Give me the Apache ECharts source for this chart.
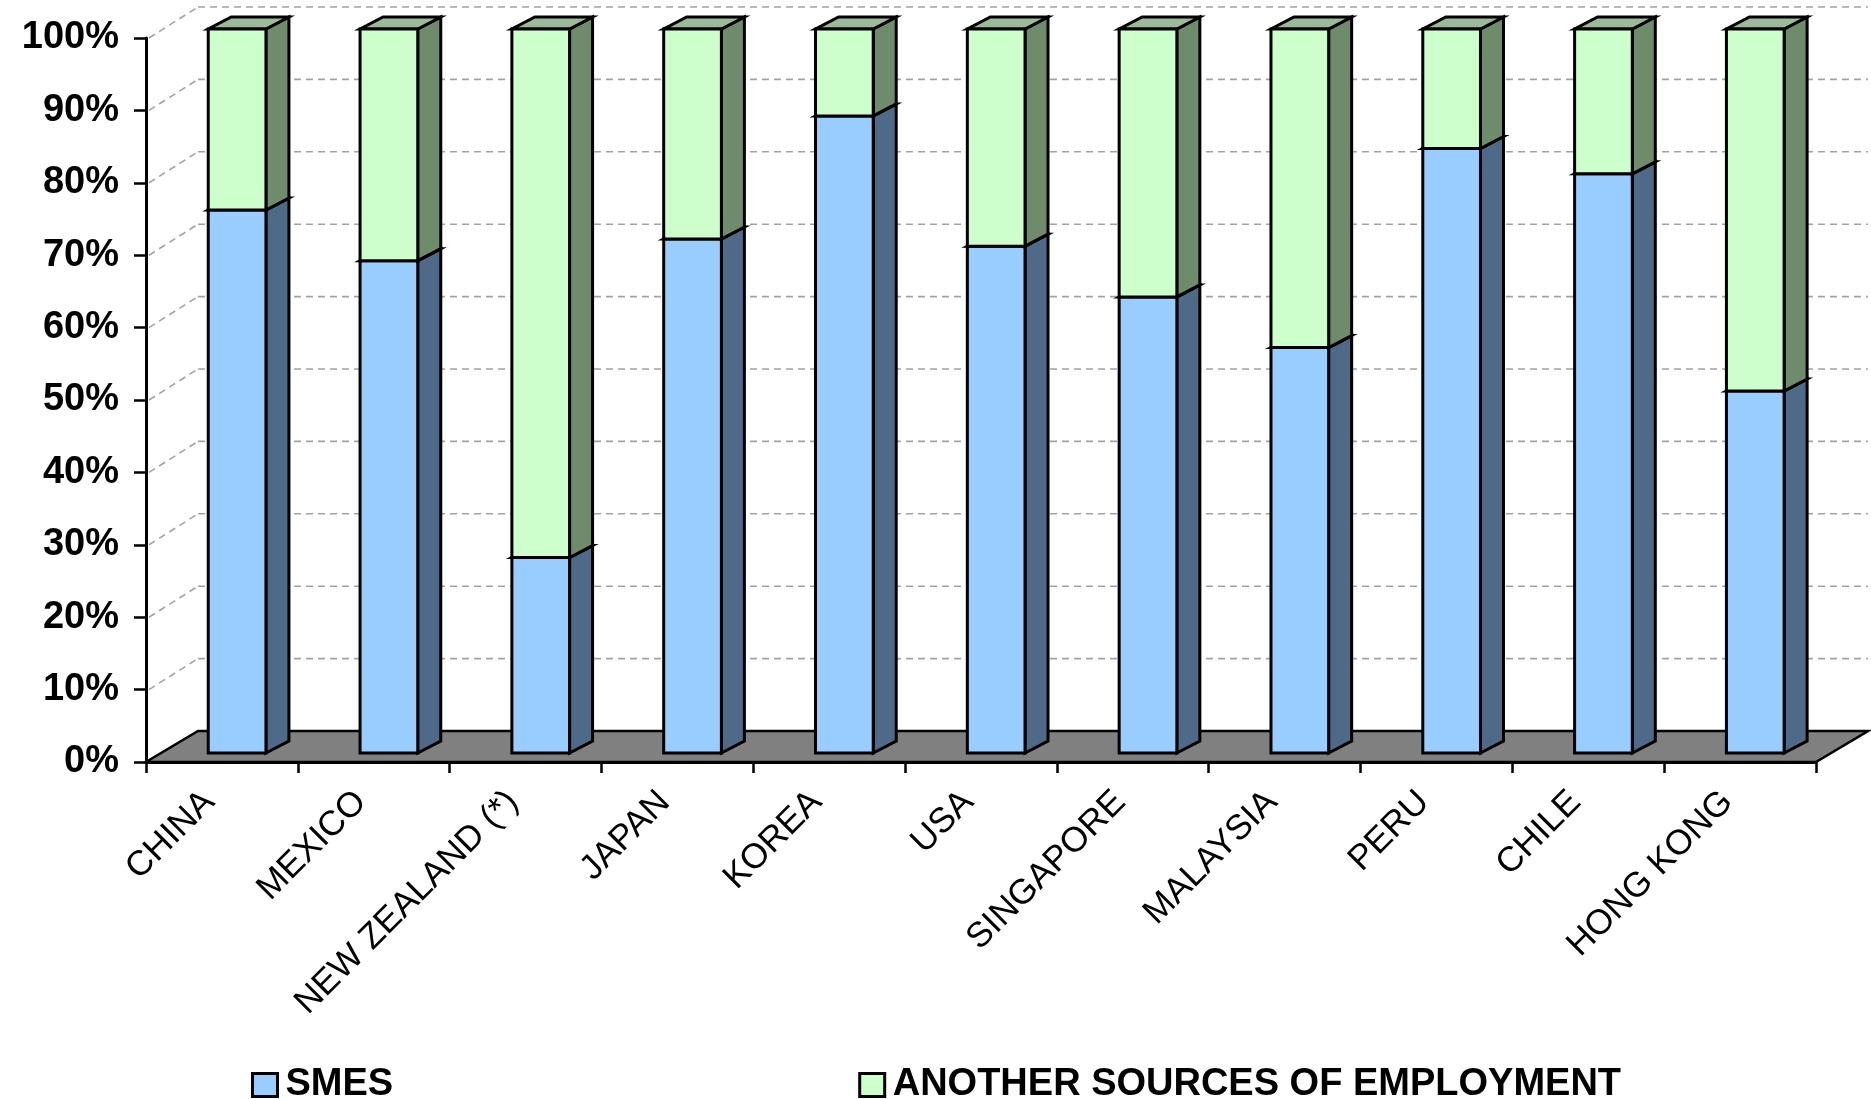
<!DOCTYPE html>
<html>
<head>
<meta charset="utf-8">
<script src="https://cdn.jsdelivr.net/npm/echarts@6/dist/echarts.min.js"></script>
<style>
  html, body { margin: 0; padding: 0; background: #ffffff; }
  #chart { width: 1871px; height: 1099px; }
</style>
</head>
<body>
<div id="chart"></div>
<script>
// Share of employment by economy (%)
const categories = ['CHINA', 'MEXICO', 'NEW ZEALAND (*)', 'JAPAN', 'KOREA', 'USA',
                    'SINGAPORE', 'MALAYSIA', 'PERU', 'CHILE', 'HONG KONG'];
const smes         = [75, 68, 27, 71, 88, 70, 63, 56, 83.5, 80, 50];
const otherSources = [25, 32, 73, 29, 12, 30, 37, 44, 16.5, 20, 50];
const yTicks = [0, 10, 20, 30, 40, 50, 60, 70, 80, 90, 100];
const seriesNames = ['SMES', 'ANOTHER SOURCES OF EMPLOYMENT'];

const FONT = '"Liberation Sans", Arial, sans-serif';

// oblique projection of the 3-D box: floor depth and bar depth
const FLOOR_DX = 52, FLOOR_DY = -31;
const BAR_DX = 23, BAR_DY = -12;
const BAR_LIFT = 9;          // bars stand a little behind the front floor edge
const OUTLINE = { stroke: '#000000', lineWidth: 3, lineJoin: 'miter' };

const palette = {
  smes:  { front: '#99CCFF', side: '#4F6A89', top: '#7FA6CC' },
  other: { front: '#CCFFCC', side: '#6E8B6C', top: '#9DB99B' }
};

function boxSegment(colors) {
  return function (params, api) {
    const i = api.value(0);
    const band = api.size([1, 0])[0];
    const lo = api.coord([i, api.value(1)]);
    const hi = api.coord([i, api.value(2)]);
    const cx = lo[0] + band * 0.1;
    const half = band * 0.19;
    const x0 = cx - half, x1 = cx + half;
    const yb = lo[1] - BAR_LIFT, yt = hi[1] - BAR_LIFT;
    return {
      type: 'group',
      children: [
        { type: 'polygon',
          shape: { points: [[x1, yb], [x1 + BAR_DX, yb + BAR_DY], [x1 + BAR_DX, yt + BAR_DY], [x1, yt]] },
          style: Object.assign({ fill: colors.side }, OUTLINE) },
        { type: 'polygon',
          shape: { points: [[x0, yt], [x1, yt], [x1 + BAR_DX, yt + BAR_DY], [x0 + BAR_DX, yt + BAR_DY]] },
          style: Object.assign({ fill: colors.top }, OUTLINE) },
        { type: 'rect',
          shape: { x: x0, y: yt, width: x1 - x0, height: yb - yt },
          style: Object.assign({ fill: colors.front }, OUTLINE) }
      ]
    };
  };
}

// grey floor under the bars
function renderFloor(params, api) {
  const cs = params.coordSys;
  const yb = api.coord([0, yTicks[0]])[1];
  const xl = cs.x, xr = cs.x + cs.width;
  return {
    type: 'polygon',
    shape: { points: [[xl, yb], [xr, yb], [xr + FLOOR_DX, yb + FLOOR_DY], [xl + FLOOR_DX, yb + FLOOR_DY]] },
    style: { fill: '#808080', stroke: '#000000', lineWidth: 2.5, lineJoin: 'miter' }
  };
}

// dashed gridlines on the side and back walls
function renderWallLine(params, api) {
  const cs = params.coordSys;
  const y = api.coord([0, api.value(1)])[1];
  const xl = cs.x, xr = cs.x + cs.width;
  const dash = { stroke: '#a3a3a3', lineWidth: 1.6, lineDash: [7, 5], fill: null };
  return {
    type: 'group',
    children: [
      { type: 'line', shape: { x1: xl + 3, y1: y, x2: xl + FLOOR_DX, y2: y + FLOOR_DY }, style: dash },
      { type: 'line', shape: { x1: xl + FLOOR_DX, y1: y + FLOOR_DY, x2: xr + FLOOR_DX, y2: y + FLOOR_DY }, style: dash }
    ]
  };
}

const chart = echarts.init(document.getElementById('chart'), null, { renderer: 'canvas' });

chart.setOption({
  animation: false,
  backgroundColor: '#ffffff',
  grid: { left: 146, right: 55, top: 38, bottom: 337, containLabel: false },
  legend: {
    data: seriesNames,
    left: 246,
    top: 1060,
    icon: 'rect',
    itemWidth: 25,
    itemHeight: 23,
    itemGap: 465,
    itemStyle: { borderColor: '#000000', borderWidth: 3 },
    textStyle: {
      fontFamily: FONT, fontSize: 38, fontWeight: 'bold', color: '#000000',
      lineHeight: 40, padding: [0, 0, 0, 3]
    }
  },
  xAxis: {
    type: 'category',
    data: categories,
    boundaryGap: true,
    z: 10,
    axisLine: { show: true, lineStyle: { color: '#000000', width: 3 } },
    axisTick: { show: true, length: 11, alignWithLabel: false, lineStyle: { color: '#000000', width: 2.5 } },
    axisLabel: {
      interval: 0, rotate: 45, margin: 22,
      padding: [0, 18, 0, 0],
      fontFamily: FONT, fontSize: 35, color: '#000000'
    },
    splitLine: { show: false }
  },
  yAxis: {
    type: 'value',
    min: yTicks[0],
    max: yTicks[yTicks.length - 1],
    interval: 10,
    z: 10,
    axisLine: { show: true, lineStyle: { color: '#000000', width: 3 } },
    axisTick: { show: true, length: 12, lineStyle: { color: '#000000', width: 2.5 } },
    axisLabel: {
      formatter: '{value}%', margin: 27,
      fontFamily: FONT, fontSize: 38, fontWeight: 'bold', color: '#000000'
    },
    splitLine: { show: false }
  },
  series: [
    {
      type: 'custom', name: 'floor', z: 1, silent: true,
      renderItem: renderFloor,
      encode: { x: 0, y: 1 },
      data: [[0, yTicks[0]]]
    },
    {
      type: 'custom', name: 'walls', z: 1, silent: true,
      renderItem: renderWallLine,
      encode: { x: 0, y: 1 },
      data: yTicks.slice(1).map(t => [0, t])
    },
    {
      type: 'custom', name: seriesNames[0], z: 3,
      renderItem: boxSegment(palette.smes),
      itemStyle: { color: palette.smes.front },
      encode: { x: 0, y: [1, 2] },
      data: smes.map((v, i) => [i, 0, v])
    },
    {
      type: 'custom', name: seriesNames[1], z: 4,
      renderItem: boxSegment(palette.other),
      itemStyle: { color: palette.other.front },
      encode: { x: 0, y: [1, 2] },
      data: otherSources.map((v, i) => [i, smes[i], smes[i] + v])
    }
  ]
});
</script>
</body>
</html>
